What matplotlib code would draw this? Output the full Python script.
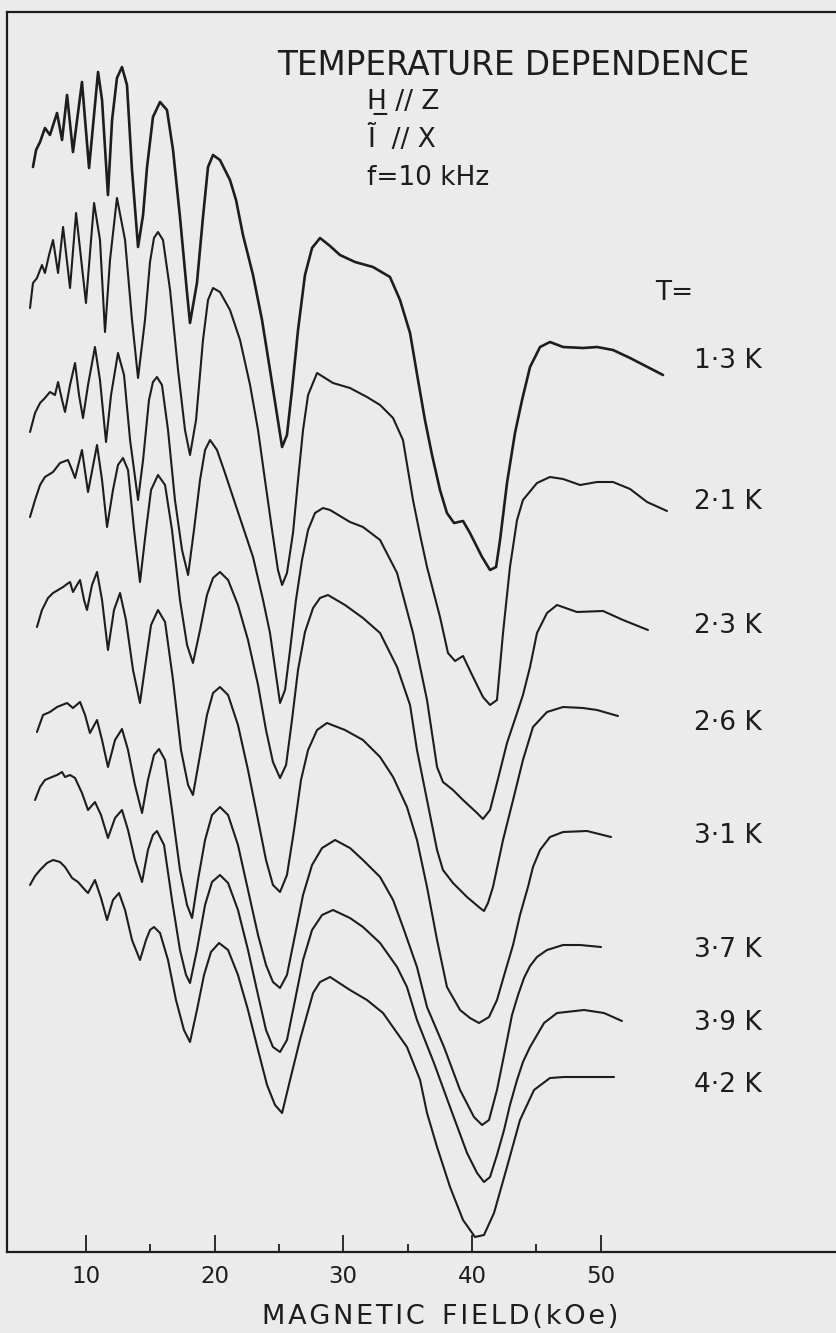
"""Temperature dependence of the oscillatory signal (H // Z, I // X, f = 10 kHz), one trace per T."""
import numpy as np
import matplotlib
matplotlib.use("Agg")
import matplotlib.pyplot as plt

plt.rcParams["font.family"] = ["DejaVu Sans"]

TEMPS = ["1·3 K", "2·1 K", "2·3 K", "2·6 K", "3·1 K", "3·7 K", "3·9 K", "4·2 K"]

# field (kOe) and signal (arb. units, traces offset)
H_13 = [5.87, 6.11, 6.42, 6.80, 7.19, 7.74, 8.13, 8.52, 8.98, 9.68,
        10.23, 10.93, 11.24, 11.70, 12.02, 12.40, 12.79, 13.18, 13.57, 14.04,
        14.43, 14.74, 15.20, 15.75, 16.29, 16.76, 17.30, 17.85, 18.08, 18.62,
        19.09, 19.48, 19.87, 20.41, 21.19, 21.66, 22.20, 22.98, 23.68, 24.30,
        24.85, 25.24, 25.62, 26.01, 26.48, 27.02, 27.57, 28.19, 28.97, 29.74,
        30.91, 32.31, 33.63, 34.41, 35.19, 35.81, 36.35, 36.90, 37.52, 38.06,
        38.61, 39.31, 39.85, 40.79, 41.41, 41.88, 42.19, 42.73, 43.35, 43.90,
        44.52, 45.30, 46.07, 47.09, 48.64, 49.73, 50.97, 52.30, 54.86]
S_13 = [108.5, 110.2, 111.0, 112.4, 111.7, 113.9, 111.2, 115.7, 110.0, 117.0,
        108.4, 118.0, 115.2, 105.7, 113.2, 117.4, 118.5, 116.7, 108.2, 100.5,
        103.7, 108.5, 113.5, 115.0, 114.2, 110.2, 103.5, 95.9, 92.9, 96.9,
        103.5, 108.5, 109.7, 109.2, 107.2, 105.2, 101.7, 97.7, 93.2, 88.2,
        83.7, 80.5, 81.7, 86.2, 92.2, 97.7, 100.4, 101.4, 100.6, 99.7,
        99.0, 98.5, 97.5, 95.2, 91.9, 87.2, 83.2, 79.7, 76.2, 73.9,
        72.9, 73.1, 71.9, 69.5, 68.2, 68.5, 71.2, 76.9, 81.9, 85.2,
        88.5, 90.5, 91.0, 90.5, 90.4, 90.5, 90.2, 89.4, 87.7]

H_21 = [5.64, 5.87, 6.18, 6.57, 6.80, 7.12, 7.43, 7.82, 8.21, 8.75,
        9.22, 9.99, 10.62, 11.08, 11.47, 11.86, 12.40, 13.03, 13.57, 14.04,
        14.58, 14.97, 15.28, 15.59, 15.98, 16.53, 17.15, 17.69, 18.08, 18.55,
        19.09, 19.48, 19.87, 20.41, 21.19, 21.97, 22.75, 23.37, 23.91, 24.46,
        24.92, 25.24, 25.62, 26.09, 26.48, 26.87, 27.26, 27.96, 29.20, 30.52,
        31.84, 32.86, 33.87, 34.64, 35.42, 35.97, 36.51, 37.52, 38.14, 38.69,
        39.31, 40.09, 40.86, 41.41, 41.95, 42.42, 42.96, 43.51, 43.97, 45.06,
        46.07, 47.09, 48.41, 49.73, 50.97, 52.30, 53.62, 55.17]
S_21 = [94.4, 96.9, 97.4, 98.7, 97.9, 99.7, 101.2, 97.9, 102.5, 96.4,
        103.9, 94.9, 104.9, 101.2, 92.0, 99.2, 105.4, 101.2, 93.2, 87.4,
        93.2, 99.0, 101.4, 102.0, 101.2, 96.2, 88.2, 82.2, 79.7, 83.2,
        91.2, 95.2, 96.4, 96.0, 94.2, 91.2, 86.7, 82.2, 77.2, 72.2,
        68.2, 66.7, 67.9, 71.9, 77.2, 82.2, 85.7, 87.9, 86.9, 86.4,
        85.5, 84.7, 83.4, 81.2, 75.2, 71.7, 68.5, 63.5, 59.9, 59.1,
        59.6, 57.5, 55.5, 54.7, 55.2, 61.9, 68.5, 73.2, 75.2, 76.9,
        77.5, 77.3, 76.7, 77.0, 77.0, 76.3, 75.0, 74.1]

H_23 = [5.64, 6.03, 6.42, 6.80, 7.19, 7.58, 7.82, 8.13, 8.36, 8.75,
        9.14, 9.45, 9.76, 10.15, 10.69, 11.08, 11.55, 11.94, 12.48, 12.95,
        13.42, 14.04, 14.43, 14.89, 15.20, 15.51, 15.90, 16.37, 16.91, 17.46,
        17.93, 18.39, 18.86, 19.25, 19.64, 20.18, 20.80, 21.42, 22.20, 22.98,
        23.76, 24.30, 24.69, 25.08, 25.47, 25.86, 26.32, 26.79, 27.26, 27.80,
        28.42, 28.97, 30.52, 31.53, 32.86, 34.18, 35.42, 36.51, 37.29, 37.75,
        38.53, 39.31, 40.40, 40.86, 41.41, 41.95, 42.73, 43.51, 43.97, 44.52,
        45.06, 45.84, 46.62, 48.17, 50.20, 51.75, 53.69]
S_23 = [82.0, 83.9, 84.9, 85.4, 86.0, 85.7, 87.0, 85.2, 84.0, 86.7,
        88.9, 85.7, 83.4, 86.7, 90.5, 87.2, 81.0, 85.7, 89.9, 87.7,
        81.2, 75.2, 79.2, 85.2, 87.0, 87.5, 86.7, 82.2, 75.2, 70.2,
        67.7, 72.2, 77.2, 80.2, 81.2, 80.2, 77.9, 75.5, 72.5, 69.5,
        65.2, 61.9, 58.4, 54.9, 56.2, 60.2, 65.2, 69.2, 72.2, 73.9,
        74.4, 74.2, 73.0, 72.5, 71.2, 67.9, 61.9, 55.2, 48.5, 47.0,
        46.2, 45.2, 43.9, 43.3, 44.2, 46.9, 50.9, 53.9, 55.7, 58.5,
        61.9, 63.9, 64.7, 64.0, 64.1, 63.2, 62.2]

H_26 = [5.64, 6.03, 6.42, 6.80, 7.43, 7.97, 8.59, 8.91, 9.14, 9.68,
        10.15, 10.85, 11.24, 11.63, 12.09, 12.48, 12.87, 13.26, 13.73, 14.19,
        14.66, 15.05, 15.59, 16.14, 16.68, 17.30, 17.85, 18.31, 18.86, 19.40,
        19.87, 20.41, 21.04, 21.81, 22.59, 23.37, 23.99, 24.53, 25.08, 25.55,
        26.01, 26.48, 27.02, 27.65, 28.19, 28.81, 30.13, 31.53, 32.86, 34.18,
        35.19, 35.73, 36.51, 37.29, 37.75, 38.53, 39.62, 40.63, 40.94, 41.25,
        41.64, 42.42, 43.20, 43.97, 44.75, 45.84, 47.09, 48.64, 49.73, 51.36]
S_26 = [73.5, 75.2, 76.7, 77.5, 78.0, 78.9, 79.2, 78.2, 77.4, 80.2,
        76.0, 80.7, 77.2, 72.5, 76.2, 78.7, 79.4, 78.2, 72.2, 67.0,
        72.2, 76.2, 77.7, 76.7, 72.2, 65.2, 60.7, 58.9, 62.2, 65.7,
        67.4, 68.0, 67.2, 64.7, 61.2, 56.7, 52.2, 49.0, 47.4, 48.7,
        53.2, 58.2, 62.0, 64.4, 65.4, 65.7, 64.7, 63.4, 61.9, 58.5,
        54.7, 50.2, 45.2, 40.2, 38.2, 36.9, 35.5, 34.4, 34.1, 34.9,
        36.5, 41.2, 45.2, 49.2, 52.5, 54.0, 54.5, 54.4, 54.2, 53.6]

H_31 = [6.18, 6.57, 7.04, 7.43, 7.82, 8.21, 8.52, 8.75, 8.98, 9.29,
        9.53, 9.84, 10.07, 10.46, 10.85, 11.24, 11.70, 12.17, 12.64, 13.10,
        13.65, 14.19, 14.66, 15.05, 15.59, 16.14, 16.76, 17.38, 17.93, 18.31,
        18.86, 19.40, 19.87, 20.41, 21.04, 21.81, 22.59, 23.37, 23.99, 24.53,
        25.08, 25.62, 26.17, 26.71, 27.26, 27.96, 28.73, 30.13, 31.53, 32.86,
        33.87, 34.95, 35.73, 36.51, 37.29, 38.06, 39.08, 39.85, 40.55, 41.33,
        41.95, 42.58, 43.20, 43.74, 44.36, 44.75, 45.30, 46.07, 47.09, 48.95,
        50.82]
S_31 = [62.5, 64.2, 65.4, 65.9, 66.2, 66.5, 66.8, 67.0, 66.0, 66.7,
        67.2, 65.2, 64.2, 66.7, 68.0, 65.2, 60.2, 64.2, 65.9, 63.2,
        58.2, 54.9, 59.2, 62.7, 64.2, 63.0, 57.2, 50.2, 46.7, 45.7,
        49.7, 53.7, 55.9, 56.5, 55.7, 52.7, 48.2, 43.2, 39.2, 36.7,
        36.0, 37.7, 42.2, 47.2, 50.2, 52.2, 52.9, 52.2, 51.2, 49.5,
        47.5, 44.5, 41.2, 36.5, 31.2, 26.5, 24.2, 23.4, 22.9, 23.5,
        25.2, 28.0, 30.7, 33.7, 36.5, 38.5, 40.2, 41.5, 42.0, 42.1,
        41.5]

H_37 = [6.18, 6.65, 7.19, 7.74, 8.13, 8.52, 8.98, 9.53, 9.92, 10.30,
        10.85, 11.24, 11.70, 12.25, 12.79, 13.26, 13.80, 14.35, 14.81, 15.28,
        15.67, 16.14, 16.68, 17.30, 17.85, 18.24, 18.70, 19.25, 19.79, 20.41,
        21.04, 21.81, 22.59, 23.37, 23.99, 24.53, 25.08, 25.62, 26.25, 26.87,
        27.57, 28.35, 29.36, 30.52, 31.53, 32.86, 33.87, 34.64, 35.73, 36.51,
        37.83, 39.08, 40.16, 40.79, 41.33, 41.95, 42.58, 43.12, 43.59, 44.05,
        44.52, 45.06, 45.84, 47.09, 48.41, 50.04]
S_37 = [52.0, 53.7, 54.0, 54.5, 54.7, 54.9, 54.4, 55.0, 53.7, 51.9,
        53.2, 51.2, 48.5, 51.2, 52.3, 50.2, 46.7, 43.9, 47.2, 49.7,
        50.3, 49.2, 44.2, 38.2, 34.7, 33.4, 37.2, 41.2, 43.7, 44.5,
        43.7, 40.7, 36.2, 31.7, 28.7, 27.0, 26.4, 27.7, 31.7, 35.7,
        38.7, 40.4, 41.2, 40.4, 39.2, 37.5, 35.2, 32.5, 28.5, 24.5,
        20.5, 16.2, 13.5, 12.7, 13.2, 16.2, 20.2, 23.7, 25.7, 27.4,
        28.6, 29.5, 30.2, 30.7, 30.7, 30.5]

H_39 = [6.03, 6.42, 6.80, 7.35, 7.74, 8.13, 8.36, 8.75, 9.14, 9.68,
        10.15, 10.69, 11.16, 11.70, 12.25, 12.79, 13.26, 13.80, 14.35, 14.81,
        15.20, 15.51, 16.06, 16.68, 17.30, 17.77, 18.08, 18.62, 19.25, 19.79,
        20.41, 21.04, 21.81, 22.59, 23.37, 23.99, 24.53, 25.08, 25.62, 26.25,
        26.87, 27.57, 28.35, 29.20, 30.52, 31.53, 32.86, 34.18, 34.95, 35.73,
        37.05, 38.30, 39.62, 40.40, 40.94, 41.41, 41.95, 42.50, 42.96, 43.51,
        43.97, 44.52, 45.61, 46.62, 48.72, 50.27, 51.67]
S_39 = [45.2, 46.5, 47.2, 47.5, 47.7, 48.0, 47.5, 47.7, 47.4, 45.9,
        44.2, 45.0, 43.7, 41.4, 43.4, 44.2, 42.2, 39.2, 37.0, 40.2,
        41.7, 42.1, 40.7, 35.2, 30.2, 27.7, 26.9, 30.2, 34.7, 37.0,
        37.7, 36.9, 34.2, 30.2, 25.7, 22.2, 20.5, 20.0, 21.2, 25.2,
        29.2, 32.2, 33.7, 34.2, 33.4, 32.5, 30.9, 28.5, 26.5, 23.2,
        18.9, 14.5, 9.9, 7.9, 7.0, 7.5, 9.7, 12.2, 14.7, 17.2,
        19.0, 20.5, 22.9, 23.9, 24.2, 23.9, 23.1]

H_42 = [5.64, 6.03, 6.42, 6.96, 7.43, 7.97, 8.36, 8.91, 9.37, 9.92,
        10.15, 10.69, 11.16, 11.63, 12.09, 12.56, 13.03, 13.57, 14.19, 14.66,
        14.97, 15.28, 15.75, 16.37, 16.99, 17.61, 18.08, 18.62, 19.17, 19.71,
        20.34, 21.04, 21.81, 22.59, 23.37, 24.07, 24.69, 25.24, 25.86, 26.63,
        27.65, 28.19, 28.97, 30.52, 31.84, 33.09, 34.95, 35.97, 36.51, 37.29,
        38.30, 39.31, 40.24, 40.94, 41.72, 42.73, 43.74, 44.83, 46.07, 47.16,
        49.18, 51.05]
S_42 = [36.7, 37.6, 38.2, 38.9, 39.2, 39.0, 38.5, 37.4, 37.0, 36.2,
        35.9, 37.2, 35.4, 33.2, 35.2, 35.9, 34.2, 31.2, 29.2, 31.2,
        32.2, 32.5, 31.9, 29.2, 25.2, 22.2, 21.0, 24.2, 27.7, 30.0,
        30.9, 30.2, 27.7, 24.2, 20.2, 16.7, 14.7, 13.9, 17.2, 21.2,
        25.9, 27.0, 27.5, 26.2, 25.2, 23.9, 20.5, 17.2, 13.9, 10.5,
        6.5, 3.2, 1.5, 1.7, 3.9, 8.5, 13.2, 16.2, 17.4, 17.5,
        17.5, 17.5]

TRACES = [(H_13, S_13), (H_21, S_21), (H_23, S_23), (H_26, S_26),
          (H_31, S_31), (H_37, S_37), (H_39, S_39), (H_42, S_42)]

MAJOR = [10, 20, 30, 40, 50]
MINOR = [15, 25, 35, 45]

# layout (data coords): where the temperature tags sit
TAG_X = 57.3
TAG_Y = [88.4, 74.3, 61.9, 52.2, 40.9, 29.5, 22.2, 16.0]

INK = "#1d1d1d"
PAPER = "#ebebeb"


def spaced(s, sep="\u200a"):
    # the original lettering is set wide; pad the glyphs a little
    return sep.join(s)


def main():
    fig = plt.figure(figsize=(8.37, 13.33), dpi=100, facecolor=PAPER)
    ax = fig.add_axes([7 / 837, 81 / 1333, 830 / 837, 1240 / 1333])
    ax.set_facecolor(PAPER)
    ax.set_xlim(3.85, 68.39)
    ax.set_ylim(0, 124)

    for i, (h, s) in enumerate(TRACES):
        ax.plot(h, s, color=INK, lw=1.9 if i == 0 else 1.5,
                solid_joinstyle="round", solid_capstyle="round")

    for sp in ("left", "top", "bottom"):
        ax.spines[sp].set_linewidth(1.6)
        ax.spines[sp].set_color(INK)
    ax.spines["right"].set_visible(False)

    ax.set_yticks([])
    ax.set_xticks(MAJOR)
    ax.set_xticks(MINOR, minor=True)
    ax.tick_params(axis="x", which="major", direction="in", length=12, width=1.3,
                   color=INK, labelsize=16.5, pad=9.5, labelcolor=INK)
    ax.tick_params(axis="x", which="minor", direction="in", length=6, width=1.3, color=INK)

    ax.set_xlabel(spaced("MAGNETIC") + "  " + spaced("FIELD(kOe)"), fontsize=19.5, color=INK)
    ax.xaxis.set_label_coords((440 - 7) / 830, -0.042)

    ax.text(24.85, 117.7, "TEMPERATURE DEPENDENCE", fontsize=23.5, color=INK, va="baseline")
    ax.text(31.84, 114.3, "H\u0332 // Z", fontsize=19, color=INK, va="baseline")
    ax.text(31.84, 110.5, "\u0128  // X", fontsize=19, color=INK, va="baseline")
    ax.text(31.84, 106.7, "f=10 kHz", fontsize=19, color=INK, va="baseline")
    ax.text(54.24, 95.2, "T=", fontsize=19, color=INK, va="baseline")
    for lab, y in zip(TEMPS, TAG_Y):
        ax.text(TAG_X, y, lab, fontsize=19, color=INK, va="baseline")

    fig.savefig("out.png", dpi=100, facecolor=PAPER)


if __name__ == "__main__":
    main()
